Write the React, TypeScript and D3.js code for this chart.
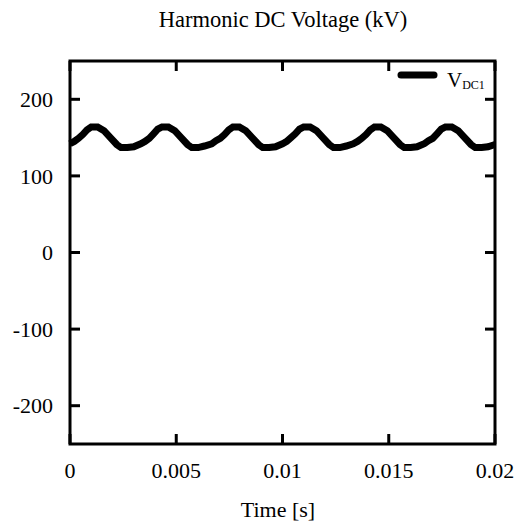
import React from "react";
import * as d3 from "d3";

const title = "Harmonic DC Voltage (kV)";
const xLabel = "Time [s]";
const seriesName = "V";
const seriesSub = "DC1";

const xTicks = [0, 0.005, 0.01, 0.015, 0.02];
const xTickLabels = ["0", "0.005", "0.01", "0.015", "0.02"];
const yTicks = [200, 100, 0, -100, -200];
const yTickLabels = ["200", "100", "0", "-100", "-200"];

const times = [
  0, 0.0002, 0.0004, 0.0006, 0.0008, 0.001, 0.0013, 0.0016, 0.0019, 0.0022, 0.0024, 0.0027, 0.003,
  0.00333, 0.00353, 0.00373, 0.00393, 0.00413, 0.00433, 0.00463, 0.00493, 0.00523, 0.00553, 0.00573, 0.00603, 0.00633,
  0.00667, 0.00687, 0.00707, 0.00727, 0.00747, 0.00767, 0.00797, 0.00827, 0.00857, 0.00887, 0.00907, 0.00937, 0.00967,
  0.01, 0.0102, 0.0104, 0.0106, 0.0108, 0.011, 0.0113, 0.0116, 0.0119, 0.0122, 0.0124, 0.0127, 0.013,
  0.01333, 0.01353, 0.01373, 0.01393, 0.01413, 0.01433, 0.01463, 0.01493, 0.01523, 0.01553, 0.01573, 0.01603, 0.01633,
  0.01667, 0.01687, 0.01707, 0.01727, 0.01747, 0.01767, 0.01797, 0.01827, 0.01857, 0.01887, 0.01907, 0.01937, 0.01967,
  0.02,
];
const vdc1 = [
  142, 145, 149, 154, 160, 164, 164, 159, 150, 141, 137, 137, 138,
  142, 145, 149, 155, 161, 164, 164, 159, 150, 141, 137, 137, 139,
  142, 146, 149, 154, 160, 164, 164, 159, 150, 141, 137, 137, 138,
  142, 145, 150, 155, 161, 164, 164, 159, 150, 141, 137, 137, 139,
  142, 145, 149, 154, 160, 164, 164, 159, 150, 141, 137, 137, 138,
  142, 146, 149, 155, 161, 164, 164, 159, 150, 141, 137, 137, 138,
  141,
];

export default function App() {
  const W = 517;
  const H = 524;
  const left = 70, right = 495, top = 61, bottom = 444;
  const x = d3.scaleLinear().domain([0, 0.02]).range([left, right]);
  const y = d3.scaleLinear().domain([-250, 250]).range([bottom, top]);
  const pts = times.map((t, i) => [t, vdc1[i]] as [number, number]);
  const line = d3
    .line<[number, number]>()
    .x((d) => x(d[0]))
    .y((d) => y(d[1]));
  const font = "'Liberation Serif', 'Times New Roman', serif";
  const tickLen = 10;
  return (
    <svg
      width={W}
      height={H}
      style={{ position: "absolute", left: 0, top: 0, background: "#fff" }}
      fontFamily={font}
    >
      <rect x={0} y={0} width={W} height={H} fill="#fff" />
      <text x={283} y={27} textAnchor="middle" fontSize={22.5} fill="#000">
        {title}
      </text>
      {/* x ticks bottom & top */}
      {xTicks.map((t, i) => (
        <g key={"xt" + i}>
          <line x1={x(t)} x2={x(t)} y1={bottom} y2={bottom - tickLen} stroke="#000" strokeWidth={3} />
          <line x1={x(t)} x2={x(t)} y1={top} y2={top + tickLen} stroke="#000" strokeWidth={3} />
          <text x={x(t)} y={478} textAnchor="middle" fontSize={22} fill="#000">
            {xTickLabels[i]}
          </text>
        </g>
      ))}
      {yTicks.map((v, i) => (
        <g key={"yt" + i}>
          <line x1={left} x2={left + tickLen} y1={y(v)} y2={y(v)} stroke="#000" strokeWidth={3} />
          <line x1={right} x2={right - tickLen} y1={y(v)} y2={y(v)} stroke="#000" strokeWidth={3} />
          <text x={53} y={y(v)} dy="0.35em" textAnchor="end" fontSize={22} fill="#000">
            {yTickLabels[i]}
          </text>
        </g>
      ))}
      <path
        d={line(pts) || ""}
        fill="none"
        stroke="#000"
        strokeWidth={7}
        strokeLinejoin="miter"
      />
      <rect
        x={left}
        y={top}
        width={right - left}
        height={bottom - top}
        fill="none"
        stroke="#000"
        strokeWidth={3}
      />
      {/* legend */}
      <line x1={401} x2={434} y1={75} y2={75} stroke="#000" strokeWidth={7} strokeLinecap="round" />
      <text x={447} y={87} fontSize={21} fill="#000">
        {seriesName}
        <tspan fontSize={12} dy={2}>
          {seriesSub}
        </tspan>
      </text>
      <text x={278} y={517} textAnchor="middle" fontSize={22} fill="#000">
        {xLabel}
      </text>
    </svg>
  );
}
